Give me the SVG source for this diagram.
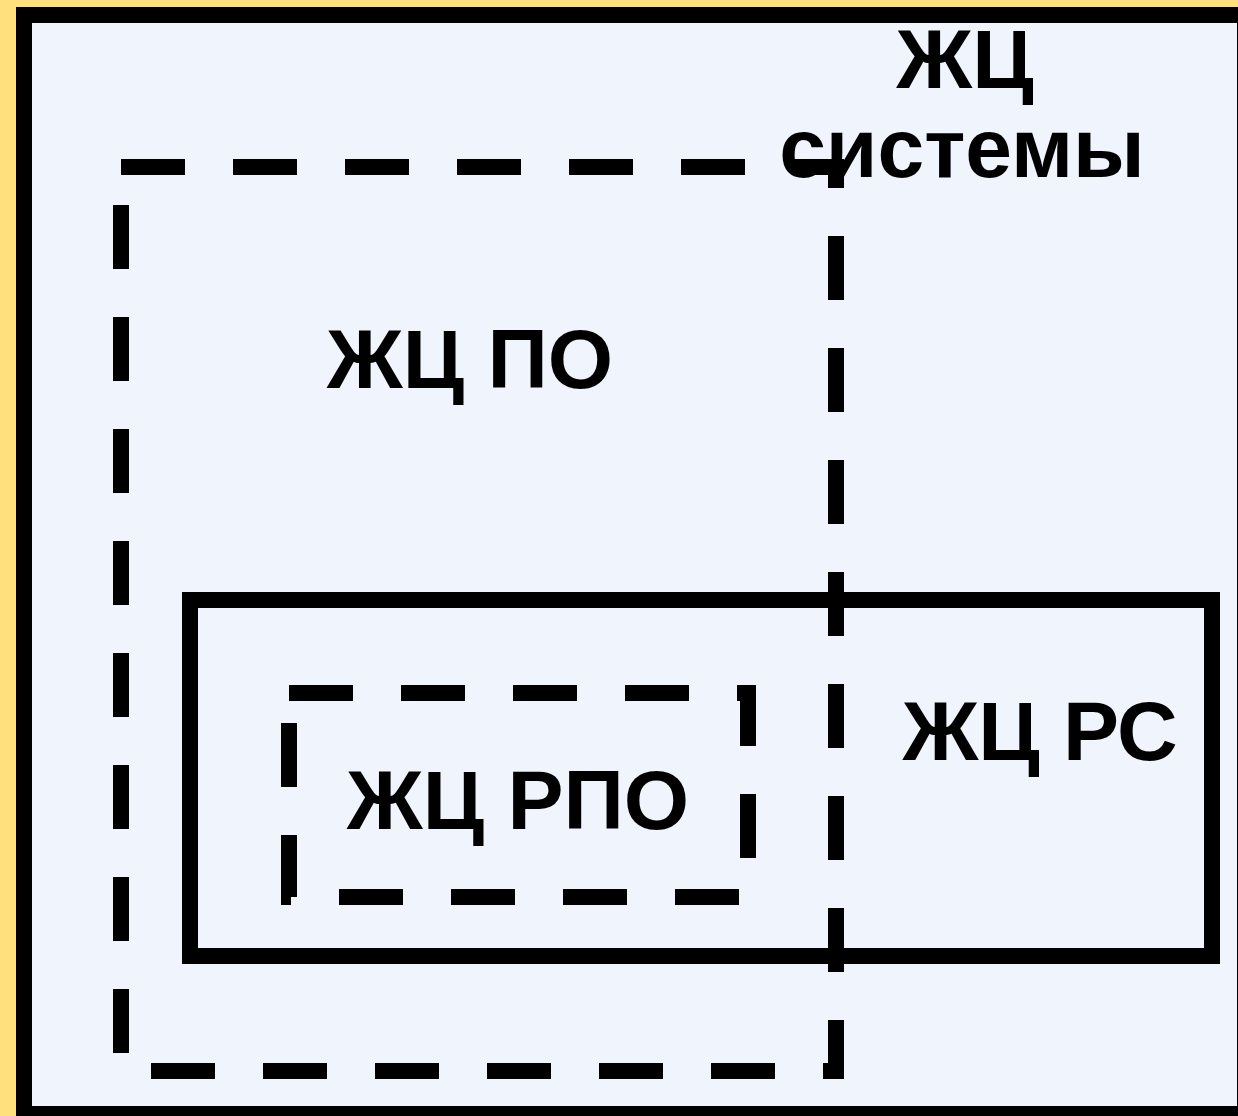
<svg xmlns="http://www.w3.org/2000/svg" width="1238" height="1116" viewBox="0 0 1238 1116">
  <style>
    .frame { fill: #F0F4FC; stroke: #000; stroke-width: 16; }
    .box { fill: none; stroke: #000; stroke-width: 16; stroke-linejoin: miter; }
    .dash { stroke-dasharray: 64 48; }
    .lbl { font-family: "Liberation Sans", Arial, sans-serif; font-weight: bold; font-size: 84px; fill: #000; text-anchor: middle; }
  </style>
  <rect x="0" y="0" width="1238" height="1116" fill="#FFE07C"/>
  <g id="system">
    <rect class="frame" x="24" y="15" width="1221" height="1099"/>
  </g>
  <g id="rs">
    <rect class="box" x="190" y="600" width="1022" height="356"/>
    <text class="lbl" x="1040" y="760">ЖЦ РС</text>
  </g>
  <g id="po">
    <rect class="box dash" x="121" y="167" width="715" height="904"/>
    <text class="lbl" x="470" y="388">ЖЦ ПО</text>
  </g>
  <g id="rpo">
    <rect class="box dash" x="289" y="693" width="459" height="204"/>
    <text class="lbl" x="518" y="829">ЖЦ РПО</text>
  </g>
  <g id="system-label">
    <text class="lbl" x="965" y="88">ЖЦ</text>
    <text class="lbl" x="962" y="177">системы</text>
  </g>
  <g id="connectors"/>
</svg>
